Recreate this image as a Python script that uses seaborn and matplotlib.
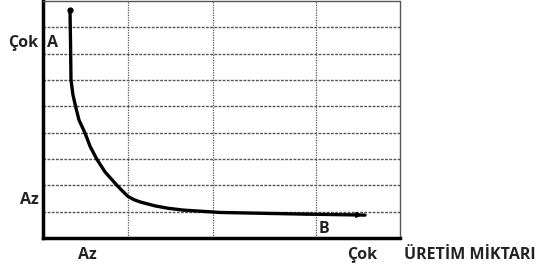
import matplotlib
matplotlib.use("Agg")
import matplotlib.pyplot as plt
import seaborn as sns
import pandas as pd

# Curve (production quantity vs unit cost)
curve_x = [0.756, 0.770, 0.784, 0.840, 0.916, 1.008, 1.176, 1.316, 1.504, 1.737, 2.064,
           2.230, 2.381, 2.540, 2.717, 3.137, 3.500, 3.922, 4.958, 7.199, 9.02]
curve_y = [8.66, 7.52, 6.00, 5.43, 4.98, 4.48, 3.99, 3.49, 3.00, 2.51, 2.01,
           1.78, 1.58, 1.46, 1.37, 1.22, 1.13, 1.06, 0.97, 0.91, 0.87]
x_grid = [2.38, 4.76, 7.65]
y_grid = [1, 2, 3, 4, 5, 6, 7, 8]
y_tick_labels = {"Çok": 7.4, "Az": 1.45}
x_tick_labels = {"Az": 1.25, "Çok": 8.95}
x_title = "ÜRETİM MİKTARI"
point_a = ("A", 0.27, 7.4)
point_b = ("B", 7.88, 0.35)

sns.set_style("white")
plt.rcParams["font.family"] = ["Open Sans", "DejaVu Sans"]

fig = plt.figure(figsize=(5.41, 2.66), dpi=100)
ax = fig.add_axes([43/541, 28/266, 357/541, 237/266])

df = pd.DataFrame({"x": curve_x, "y": curve_y})
sns.lineplot(data=df, x="x", y="y", sort=False, color="black", lw=2.4, ax=ax,
             solid_capstyle="round", solid_joinstyle="round")
ax.annotate("", xy=(curve_x[-1], curve_y[-1]), xytext=(curve_x[-2], curve_y[-2]),
            arrowprops=dict(arrowstyle="-|>", color="black", lw=1.5, mutation_scale=7))
ax.plot(curve_x[0], curve_y[0], marker="o", ms=3.5, color="black")

ax.set_xlim(0, 10)
ax.set_ylim(0, 9)
for gx in x_grid:
    ax.axvline(gx, color="#555555", lw=0.9, ls=(0, (1, 1)), zorder=0)
for gy in y_grid:
    ax.axhline(gy, color="#555555", lw=1.0, ls=(0, (2, 1)), zorder=0)

for side in ["left", "bottom"]:
    ax.spines[side].set_linewidth(2.5)
    ax.spines[side].set_color("black")
for side in ["top", "right"]:
    ax.spines[side].set_linewidth(1.0)
    ax.spines[side].set_color("#555555")
    ax.spines[side].set_linestyle((0, (2, 1)))

ax.set_xticks([])
ax.set_yticks([])
ax.set_xlabel("")
ax.set_ylabel("")

fs = 11.5
tc = "#222222"
for lab, yv in y_tick_labels.items():
    ax.text(-0.12, yv, lab, ha="right", va="center", fontsize=fs, fontweight="bold", color=tc)
for lab, xv in x_tick_labels.items():
    ax.text(xv, -0.65, lab, ha="center", va="center", fontsize=fs, fontweight="bold", color=tc)
ax.text(10.1, -0.65, x_title, ha="left", va="center", fontsize=fs, fontweight="bold", color=tc, clip_on=False)
ax.text(point_a[1], point_a[2], point_a[0], ha="center", va="center", fontsize=fs, fontweight="bold", color=tc)
ax.text(point_b[1], point_b[2], point_b[0], ha="center", va="center", fontsize=fs, fontweight="bold", color=tc)

fig.savefig("out.png", dpi=100)
